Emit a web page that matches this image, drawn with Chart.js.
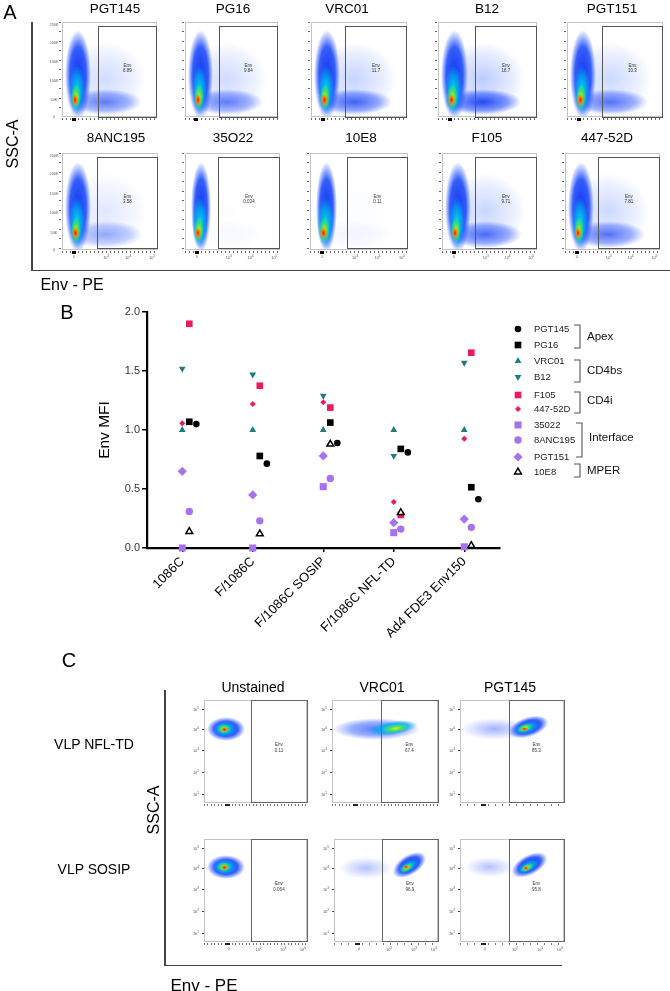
<!DOCTYPE html>
<html>
<head>
<meta charset="utf-8">
<script src="https://cdn.jsdelivr.net/npm/chart.js@4.4.1/dist/chart.umd.min.js"></script>
<style>
  html, body { margin: 0; padding: 0; background: #fff; }
  #page { position: relative; width: 670px; height: 991px; overflow: hidden; font-family: "Liberation Sans", Arial, sans-serif; color: #000; }
  #chart { position: absolute; left: 0; top: 0; }
  .txt { position: absolute; white-space: nowrap; line-height: 1; }
  .plot { position: absolute; box-sizing: border-box; border: 1px solid #c4c4c4; }
  .cloud { position: absolute; left: 0; top: 0; right: 0; bottom: 0; overflow: hidden; }
  .gate { position: absolute; box-sizing: border-box; border: 1.2px solid #555; }
  .glab { position: absolute; font-size: 4.5px; line-height: 1.25; text-align: center; color: #333; transform: translate(-50%, -50%); white-space: nowrap; }
  .tiny { position: absolute; font-size: 3.8px; color: #555; white-space: nowrap; transform: translate(-50%, -50%); }
  .line { position: absolute; background: #444; }
</style>
</head>
<body>
<div id="page">
  <canvas id="chart" width="670" height="991"></canvas>
</div>
<script>
// panel B data: Env MFI for each antibody, one value per immunogen
const categories = ['1086C', 'F/1086C', 'F/1086C SOSIP', 'F/1086C NFL-TD', 'Ad4 FDE3 Env150']
const pgt145 = [1.05, 0.715, 0.89, 0.81, 0.413]
const pg16 = [1.07, 0.78, 1.063, 0.84, 0.515]
const vrc01 = [1.0, 1.0, 1.0, 1.0, 1.0]
const b12 = [1.52, 1.47, 1.29, 0.78, 1.57]
const f105 = [1.90, 1.375, 1.19, 0.28, 1.655]
const d447 = [1.058, 1.22, 1.236, 0.39, 0.925]
const x35022 = [0.0, 0.0, 0.52, 0.13, 0.01]
const anc195 = [0.31, 0.23, 0.59, 0.16, 0.175]
const pgt151 = [0.65, 0.45, 0.78, 0.215, 0.245]
const e10e8 = [0.14, 0.12, 0.88, 0.30, 0.02]
const yTicks = [0, 0.5, 1.0, 1.5, 2.0]

// panel A and C texts
const aTitles = ['PGT145', 'PG16', 'VRC01', 'B12', 'PGT151', '8ANC195', '35O22', '10E8', 'F105', '447-52D']
const aGates = ['8.89', '9.84', '11.7', '18.7', '10.3', '3.58', '0.034', '0.11', '9.71', '7.81']
const aYTicks = ['250K', '200K', '150K', '100K', '50K', '0']
const aXTicks = ['0', '10<sup>3</sup>', '10<sup>4</sup>', '10<sup>5</sup>']
const cCols = ['Unstained', 'VRC01', 'PGT145']
const cRows = ['VLP NFL-TD', 'VLP SOSIP']
const cGates = [['0.11', '67.4', '85.3'], ['0.064', '96.9', '95.8']]
const cYTicks = ['10<sup>5</sup>', '10<sup>4</sup>', '10<sup>3</sup>', '10<sup>2</sup>', '10<sup>1</sup>']
const cXTicks = ['0', '10<sup>2</sup>', '10<sup>3</sup>', '10<sup>4</sup>']

const FONT = '"Liberation Sans", Arial, sans-serif'
const teal = '#1f7d7a', pink = '#ee1b5b', purple = '#a672f0'

const series = [
    { label: 'PGT145', data: pgt145, shape: 'circle', color: '#000', r: 3.3, dx: 0.2 },
    { label: 'PG16', data: pg16, shape: 'rect', color: '#000', r: 4.7, dx: 0.1 },
    { label: 'VRC01', data: vrc01, shape: 'triangle', color: teal, r: 3.9, dx: 0 },
    { label: 'B12', data: b12, shape: 'triangle', rot: 180, color: teal, r: 3.9, dx: 0 },
    { label: 'F105', data: f105, shape: 'rect', color: pink, r: 4.7, dx: 0.1 },
    { label: '447-52D', data: d447, shape: 'rectRot', color: pink, r: 3, dx: 0 },
    { label: '35022', data: x35022, shape: 'rect', color: purple, r: 5, dx: 0 },
    { label: '8ANC195', data: anc195, shape: 'circle', color: purple, r: 3.7, dx: 0.1 },
    { label: 'PGT151', data: pgt151, shape: 'rectRot', color: purple, r: 4.6, dx: 0 },
    { label: '10E8', data: e10e8, shape: 'triangle', color: '#000', r: 3.9, dx: 0.1, open: true }
]

//legend with epitope brackets
const legendRows = [329, 345, 361, 377, 395, 409, 425, 440, 457, 472]
const brackets = [
    { label: 'Apex', y0: 325, y1: 348, x: 580, ty: 337 },
    { label: 'CD4bs', y0: 360, y1: 382, x: 580, ty: 371 },
    { label: 'CD4i', y0: 392, y1: 413, x: 580, ty: 401 },
    { label: 'Interface', y0: 423, y1: 457, x: 582, ty: 438 },
    { label: 'MPER', y0: 464, y1: 477, x: 580, ty: 471 }
]

const groupLegend = {
    id: 'groupLegend',
    afterDraw(chart) {
        const ctx = chart.ctx
        ctx.save()
        series.forEach((s, i) => {
            ctx.fillStyle = s.open ? '#fff' : s.color
            ctx.strokeStyle = s.color
            ctx.lineWidth = 1.5
            Chart.helpers.drawPoint(ctx, { pointStyle: s.shape, rotation: s.rot || 0, radius: s.r, borderWidth: s.open ? 1.5 : 0 }, 518, legendRows[i])
            ctx.fillStyle = '#222'
            ctx.font = '9.5px ' + FONT
            ctx.textBaseline = 'middle'
            ctx.textAlign = 'left'
            ctx.fillText(s.label, 534, legendRows[i])
        })
        ctx.strokeStyle = '#555'
        ctx.lineWidth = 1.1
        brackets.forEach((b) => {
            ctx.beginPath()
            ctx.moveTo(b.x - 6, b.y0)
            ctx.lineTo(b.x, b.y0)
            ctx.lineTo(b.x, b.y1)
            ctx.lineTo(b.x - 6, b.y1)
            ctx.stroke()
            ctx.fillStyle = '#111'
            ctx.font = '11.5px ' + FONT
            ctx.fillText(b.label, b.x + 7, b.ty)
        })
        ctx.restore()
    }
}

Chart.defaults.font.family = FONT

new Chart(document.getElementById('chart').getContext('2d'), {
    type: 'scatter',
    data: {
        datasets: series.map((s, i) => ({
            label: s.label,
            data: s.data.map((v, j) => ({ x: j + 1 + s.dx, y: v })),
            pointStyle: s.shape,
            pointRotation: s.rot || 0,
            pointRadius: s.r,
            pointHoverRadius: s.r,
            pointBackgroundColor: s.open ? '#fff' : s.color,
            pointBorderColor: s.color,
            pointBorderWidth: s.open ? 1.5 : 0,
            clip: false,
            order: series.length - 1 - i
        }))
    },
    options: {
        responsive: false,
        animation: false,
        layout: { padding: { left: 107, top: 312, right: 170.5, bottom: 343 } },
        plugins: { legend: { display: false }, tooltip: { enabled: false } },
        scales: {
            x: {
                type: 'linear',
                min: 0.5,
                max: 5.5,
                afterBuildTicks: (s) => { s.ticks = categories.map((c, i) => ({ value: i + 1 })) },
                afterFit: (s) => { s.height = 100 },
                ticks: {
                    callback: (v) => categories[Math.round(v) - 1],
                    minRotation: 45,
                    maxRotation: 45,
                    autoSkip: false,
                    color: '#000',
                    padding: 2,
                    font: { size: 13 }
                },
                grid: { drawOnChartArea: false, tickLength: 4, color: '#000', lineWidth: 1.5 },
                border: { color: '#000', width: 2.2 }
            },
            y: {
                min: 0,
                max: 2,
                afterBuildTicks: (s) => { s.ticks = yTicks.map((v) => ({ value: v })) },
                afterFit: (s) => { s.width = 40 },
                ticks: { callback: (v) => v.toFixed(1), color: '#333', padding: 2, font: { size: 11 } },
                grid: { drawOnChartArea: false, tickLength: 5, color: '#000', lineWidth: 1.5 },
                border: { color: '#000', width: 2.2 }
            }
        }
    },
    plugins: [groupLegend]
})

// ---------- flow cytometry panels (drawn as html) ----------
const page = document.getElementById('page')

const add = (parent, cls, css, html) => {
    const d = document.createElement('div')
    d.className = cls
    Object.assign(d.style, css)
    if (html != null) d.innerHTML = html
    parent.appendChild(d)
    return d
}
const text = (x, y, str, size, rot) => add(page, 'txt', {
    left: x + 'px', top: y + 'px', fontSize: size + 'px',
    transform: 'translate(-50%,-50%)' + (rot ? ' rotate(' + rot + 'deg)' : '')
}, str)
const line = (x, y, w, h) => add(page, 'line', { left: x + 'px', top: y + 'px', width: w + 'px', height: h + 'px' })
const blob = (cloud, cx, cy, rx, ry, stops, rot) => add(cloud, '', {
    position: 'absolute', left: (cx - rx) + '%', top: (cy - ry) + '%', width: 2 * rx + '%', height: 2 * ry + '%',
    borderRadius: '50%', background: 'radial-gradient(closest-side, ' + stops + ')',
    transform: rot ? 'rotate(' + rot + 'deg)' : 'none'
})

const BLUE = 'rgba(20,55,240,1) 0%, rgba(35,80,250,0.92) 62%, rgba(70,110,255,0) 100%'
const CYAN = 'rgba(0,215,225,1) 0%, rgba(0,170,240,0.75) 60%, rgba(0,120,255,0) 100%'
const GREEN = '#d8ec10 0%, #3ee070 50%, rgba(0,210,200,0) 100%'
const CORE = '#e01a10 0%, #ff7a00 50%, rgba(255,210,0,0) 100%'

// panel B side texts
text(67, 312, 'B', 20)
text(104, 430, 'Env MFI', 15.5, -90)

// panel A
text(10, 12, 'A', 20)
line(31, 22, 1.5, 249)
line(31, 269.5, 639, 1.5)
text(13, 144, 'SSC-A', 16, -90)
text(72, 285, 'Env - PE', 16)

const aFrames = [
    { t: 22, b: 117, gt: 26, gb: 117, ty: 9, cols: [[62, 157, 98, 115], [185, 278, 219, 233], [311, 407, 345, 347], [438, 537, 475, 487], [567, 663, 602, 612]] },
    { t: 153, b: 250, gt: 157, gb: 248, ty: 138, cols: [[62, 158, 97, 116], [185, 280, 218, 233], [310, 408, 347, 361], [442, 537, 475, 487], [565, 660, 598, 607]] }
]
const aTail = [0.7, 0.7, 0.85, 1, 0.75, 0.45, 0.03, 0.05, 0.8, 0.75]

aFrames.forEach((row, ri) => {
    row.cols.forEach((c, ci) => {
        const k = ri * 5 + ci
        const [l, r, g, tx] = c
        const w = r - l, h = row.b - row.t
        text(tx, row.ty, aTitles[k], 13.5)
        const plot = add(page, 'plot', { left: l + 'px', top: row.t + 'px', width: w + 'px', height: h + 'px' })
        const cloud = add(plot, 'cloud', {})
        const t = aTail[k]
        blob(cloud, 45, 60, 44, 40, 'rgba(80,120,255,' + (0.38 * t) + ') 0%, rgba(90,130,255,' + (0.15 * t) + ') 70%, rgba(90,130,255,0) 100%')
        blob(cloud, 45, 85, 40, 14, 'rgba(25,65,240,' + (0.95 * t) + ') 0%, rgba(50,90,255,' + (0.6 * t) + ') 65%, rgba(80,120,255,0) 100%')
        blob(cloud, 16, 56, t < 0.1 ? 11 : 14, 48, BLUE)
        blob(cloud, 15, 72, 8.5, 27, CYAN)
        blob(cloud, 14, 80, 5.5, 14, GREEN)
        blob(cloud, 13, 83, 3.6, 6.5, CORE)
        add(plot, 'gate', { left: (g - l - 1) + 'px', top: (row.gt - row.t - 1) + 'px', width: (r - g) + 'px', height: (row.gb - row.gt + 1) + 'px' })
        add(page, 'glab', { left: (g + r) / 2 + 'px', top: (row.gt + (row.gb - row.gt) * 0.47) + 'px' }, 'Env<br>' + aGates[k])
        // axis ticks
        add(page, '', { position: 'absolute', left: l + 'px', top: row.b + 1 + 'px', width: w + 'px', height: '2px',
            background: 'repeating-linear-gradient(to right, #666 0 0.7px, transparent 0.7px 4px)' })
        add(page, '', { position: 'absolute', left: (l + 0.1 * w) + 'px', top: row.b + 1 + 'px', width: '4px', height: '2.5px', background: '#000' })
        add(page, '', { position: 'absolute', left: l - 3 + 'px', top: row.t + 'px', width: '2px', height: h + 'px',
            background: 'repeating-linear-gradient(to bottom, #666 0 0.7px, transparent 0.7px 9.5px)' })
        if (ci === 0) {
            aYTicks.forEach((s, i) => add(page, 'tiny', { left: l - 8 + 'px', top: row.t + h * [0.03, 0.22, 0.42, 0.62, 0.82, 1][i] + 'px' }, s))
        }
        if (ri === 1) {
            aXTicks.forEach((s, i) => add(page, 'tiny', { left: l + w * [0.125, 0.46, 0.69, 0.94][i] + 'px', top: row.b + 7 + 'px' }, s))
        }
    })
})

// panel C
text(69, 660, 'C', 20)
line(164, 690, 1.5, 276)
line(164, 964.5, 398, 1.5)
text(154, 810, 'SSC-A', 16, -90)
text(204, 985, 'Env - PE', 17)

const cFrames = [
    { t: 700, b: 803, ly: 744, cols: [[204, 307, 251], [332, 438, 381], [460, 564, 509]] },
    { t: 839, b: 942, ly: 869, cols: [[204, 307, 251], [334, 438, 382], [460, 564, 509]] }
]
const cTitleX = [253, 382, 510]
cCols.forEach((s, i) => text(cTitleX[i], 687, s, 14))

// population shapes for each C plot (style only)
const cShapes = [
    [
        [[21, 28, 19, 12, BLUE], [20, 28, 12, 8, CYAN], [19, 28, 7, 5, GREEN], [19, 28, 3.5, 2.5, CORE]],
        [[42, 28, 42, 11, 'rgba(40,80,245,0.75) 0%, rgba(70,110,255,0.55) 60%, rgba(90,130,255,0) 100%'], [58, 27, 24, 7, CYAN, -8], [60, 27, 13, 4.5, GREEN, -8]],
        [[33, 28, 33, 11, 'rgba(70,100,255,0.5) 0%, rgba(90,130,255,0) 100%'], [66, 26, 20, 10, BLUE, -18], [64, 27, 13, 6, CYAN, -18], [63, 27, 8, 4, GREEN, -18], [62, 27.5, 3.5, 2.2, CORE]]
    ],
    [
        [[21, 27, 19, 12, BLUE], [20, 27, 12, 8, CYAN], [19, 27, 7, 5, GREEN], [19, 27, 3.5, 2.5, CORE]],
        [[30, 28, 26, 11, 'rgba(70,100,255,0.4) 0%, rgba(90,130,255,0) 100%'], [73, 25, 18, 10, BLUE, -32], [72, 26, 12, 5.5, CYAN, -32], [71, 27, 7, 3.5, GREEN, -32], [70, 27, 3, 2, CORE]],
        [[28, 27, 24, 10, 'rgba(70,100,255,0.4) 0%, rgba(90,130,255,0) 100%'], [67, 25, 19, 10, BLUE, -28], [66, 26, 12, 5.5, CYAN, -28], [65, 27, 7, 3.5, GREEN, -28], [64, 27.5, 3, 2, CORE]]
    ]
]

cFrames.forEach((row, ri) => {
    text(94, row.ly, cRows[ri], 14)
    row.cols.forEach((c, ci) => {
        const [l, r, g] = c
        const w = r - l, h = row.b - row.t
        const plot = add(page, 'plot', { left: l + 'px', top: row.t + 'px', width: w + 'px', height: h + 'px' })
        const cloud = add(plot, 'cloud', {})
        cShapes[ri][ci].forEach((b) => blob(cloud, b[0], b[1], b[2], b[3], b[4], b[5]))
        add(plot, 'gate', { left: (g - l - 1) + 'px', top: '-1px', width: (r - g + 1) + 'px', height: h + 'px', borderColor: '#666' })
        add(page, 'glab', { left: (g + r) / 2 + 'px', top: row.t + h * 0.47 + 'px' }, 'Env<br>' + cGates[ri][ci])
        add(page, '', { position: 'absolute', left: l + 'px', top: row.b + 1 + 'px', width: w + 'px', height: '2px',
            background: 'repeating-linear-gradient(to right, #777 0 0.7px, transparent 0.7px 3.5px)' })
        add(page, '', { position: 'absolute', left: (l + 0.2 * w) + 'px', top: row.b + 1 + 'px', width: '5px', height: '2px', background: '#222' })
        cYTicks.forEach((s, i) => {
            add(page, 'tiny', { left: l - 8 + 'px', top: row.t + h * [0.09, 0.28, 0.49, 0.7, 0.91][i] + 'px' }, s)
            add(page, '', { position: 'absolute', left: l - 2 + 'px', top: row.t + h * [0.09, 0.28, 0.49, 0.7, 0.91][i] + 'px', width: '2px', height: '0.8px', background: '#444' })
        })
        if (ri === 1) {
            cXTicks.forEach((s, i) => add(page, 'tiny', { left: l + w * [0.24, 0.53, 0.77, 0.96][i] + 'px', top: row.b + 7 + 'px' }, s))
        }
    })
})
</script>
</body>
</html>
